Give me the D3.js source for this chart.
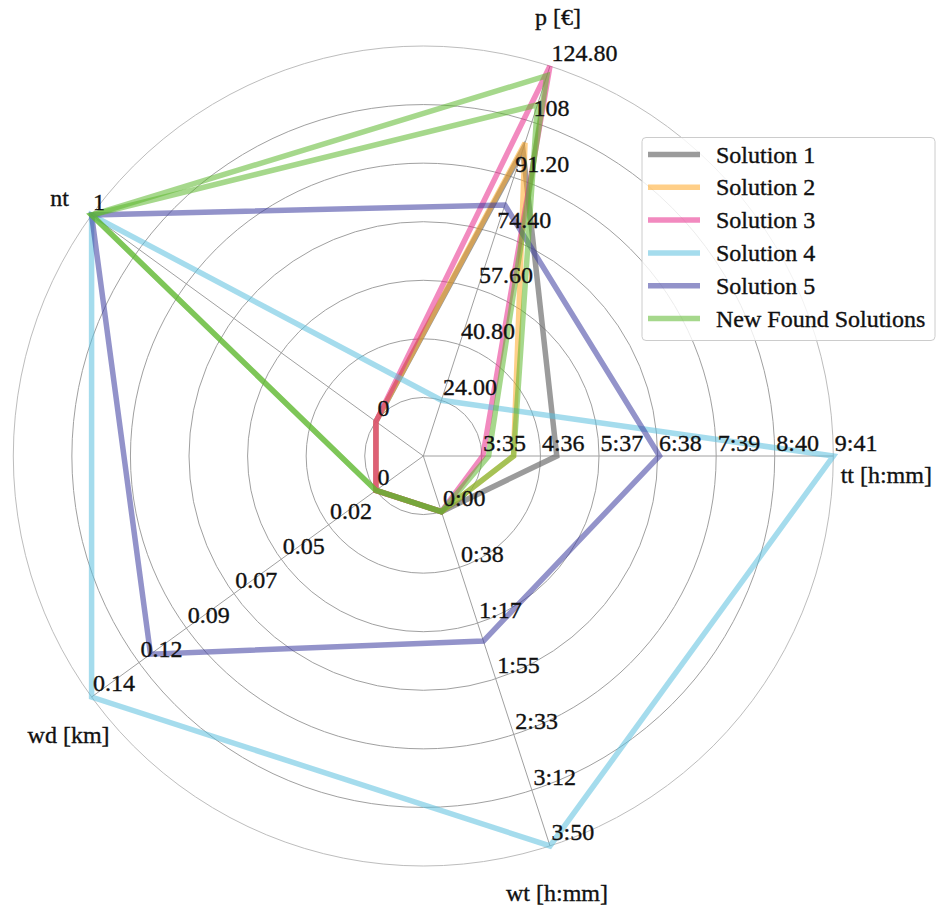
<!DOCTYPE html>
<html>
<head>
<meta charset="utf-8">
<script src="https://cdn.jsdelivr.net/npm/d3@7"></script>
<style>
  html, body { margin: 0; padding: 0; background: #fff; }
  text { font-family: "Liberation Serif", "Times New Roman", serif; fill: #111; stroke: #111; stroke-width: 0.35px; }
</style>
</head>
<body>
<svg id="chart" width="936" height="910"></svg>
<script>
// Axes, counter-clockwise from the east direction
const axisNames = ["tt [h:mm]", "p [€]", "nt", "wd [km]", "wt [h:mm]"];
// Value at the first ring and at the outer ring (tt / wt in minutes)
const axisMin = [215, 24, 0, 0, 0];
const axisMax = [581, 124.8, 1, 0.14, 230];
// Ring labels for each axis (rings 1..7)
const ttTicks = ["3:35", "4:36", "5:37", "6:38", "7:39", "8:40", "9:41"];
const pTicks = ["24.00", "40.80", "57.60", "74.40", "91.20", "108", "124.80"];
const ntTicks = ["0", "", "", "", "", "", "1"];
const wdTicks = ["0", "0.02", "0.05", "0.07", "0.09", "0.12", "0.14"];
const wtTicks = ["0:00", "0:38", "1:17", "1:55", "2:33", "3:12", "3:50"];
const tickLabels = [ttTicks, pTicks, ntTicks, wdTicks, wtTicks];

// Series values in axis order: tt (min), p (€), nt, wd (km), wt (min)
const solution1 = [293, 99.6, 0, 0, 0];
const solution2 = [248, 101.6, 0, 0, 0];
const solution3 = [216, 124.8, 0, 0, 0];
const solution4 = [581, 24.0, 1, 0.14, 230];
const solution5 = [400, 82.9, 1, 0.111, 89];
const newFoundA = [248, 113.1, 1, 0, 0];
const newFoundB = [222, 121.9, 1, 0, 0];

const seriesNames = ["Solution 1", "Solution 2", "Solution 3", "Solution 4", "Solution 5", "New Found Solutions", "New Found Solutions"];
const seriesValues = [solution1, solution2, solution3, solution4, solution5, newFoundA, newFoundB];
const seriesColors = ["#666666", "#ffa726", "#e7298a", "#5bc0de", "#3b3b9e", "#5cb82e", "#5cb82e"];
const legendNames = ["Solution 1", "Solution 2", "Solution 3", "Solution 4", "Solution 5", "New Found Solutions"];

const svg = d3.select("#chart");
const cx = 423.3, cy = 456, R = 410, nRings = 7;
const lineAlpha = [0.65, 0.55, 0.55, 0.55, 0.55, 0.55, 0.55];

const angle = d3.scaleLinear().domain([0, axisNames.length]).range([0, 2 * Math.PI]);
const radial = axisNames.map((_, i) =>
  d3.scaleLinear().domain([axisMin[i], axisMax[i]]).range([R / nRings, R]));
const ringR = d3.scaleLinear().domain([0, nRings]).range([0, R]);

const px = (i, r) => cx + r * Math.cos(angle(i));
const py = (i, r) => cy - r * Math.sin(angle(i));

// grid rings
const grid = svg.append("g");
grid.selectAll("circle")
  .data(d3.range(1, nRings + 1))
  .join("circle")
  .attr("cx", cx).attr("cy", cy)
  .attr("r", k => ringR(k))
  .attr("fill", "none")
  .attr("stroke", k => k === nRings ? "#bdbdbd" : "#a0a0a0")
  .attr("stroke-width", 1);

// spokes
grid.selectAll("line")
  .data(axisNames)
  .join("line")
  .attr("x1", cx).attr("y1", cy)
  .attr("x2", (d, i) => px(i, R)).attr("y2", (d, i) => py(i, R))
  .attr("stroke", "#a0a0a0").attr("stroke-width", 1);

// series
const line = d3.line()
  .x((v, i) => px(i, radial[i](v)))
  .y((v, i) => py(i, radial[i](v)))
  .curve(d3.curveLinearClosed);

svg.append("g").selectAll("path")
  .data(seriesValues)
  .join("path")
  .attr("d", d => line(d))
  .attr("fill", "none")
  .attr("stroke", (d, i) => seriesColors[i])
  .attr("stroke-opacity", (d, i) => lineAlpha[i])
  .attr("stroke-width", 5.5)
  .attr("stroke-linejoin", "miter");

// ring labels on each axis
const tickG = svg.append("g").attr("font-size", 24);
axisNames.forEach((name, i) => {
  tickLabels[i].forEach((lab, k) => {
    if (!lab) return;
    const r = ringR(k + 1);
    tickG.append("text")
      .attr("x", px(i, r) + 1.5)
      .attr("y", py(i, r) - 5.5)
      .text(lab);
  });
});

// axis titles, offset from each spoke end
const titleOffset = [[53, 19], [8, -49], [-32, -17], [-23, 38], [7, 47]];
svg.append("g").attr("font-size", 24).selectAll("text")
  .data(axisNames)
  .join("text")
  .attr("x", (d, i) => px(i, R) + titleOffset[i][0])
  .attr("y", (d, i) => py(i, R) + titleOffset[i][1])
  .attr("text-anchor", "middle")
  .attr("dominant-baseline", "central")
  .text(d => d);

// legend
const lg = svg.append("g").attr("transform", "translate(642,137.5)");
lg.append("rect")
  .attr("width", 293).attr("height", 203).attr("rx", 4)
  .attr("fill", "#fff").attr("fill-opacity", 0.8)
  .attr("stroke", "#cccccc").attr("stroke-width", 1);
const rowY = d3.scalePoint().domain(d3.range(legendNames.length)).range([17, 181]);
const rows = lg.selectAll("g.row")
  .data(legendNames)
  .join("g")
  .attr("class", "row")
  .attr("transform", (d, i) => `translate(0,${rowY(i)})`);
rows.append("line")
  .attr("x1", 6).attr("x2", 58).attr("y1", 0).attr("y2", 0)
  .attr("stroke", (d, i) => seriesColors[i])
  .attr("stroke-opacity", (d, i) => lineAlpha[i])
  .attr("stroke-width", 5.5);
rows.append("text")
  .attr("x", 74).attr("y", 0)
  .attr("dominant-baseline", "central")
  .attr("font-size", 24)
  .text(d => d);
</script>
</body>
</html>
